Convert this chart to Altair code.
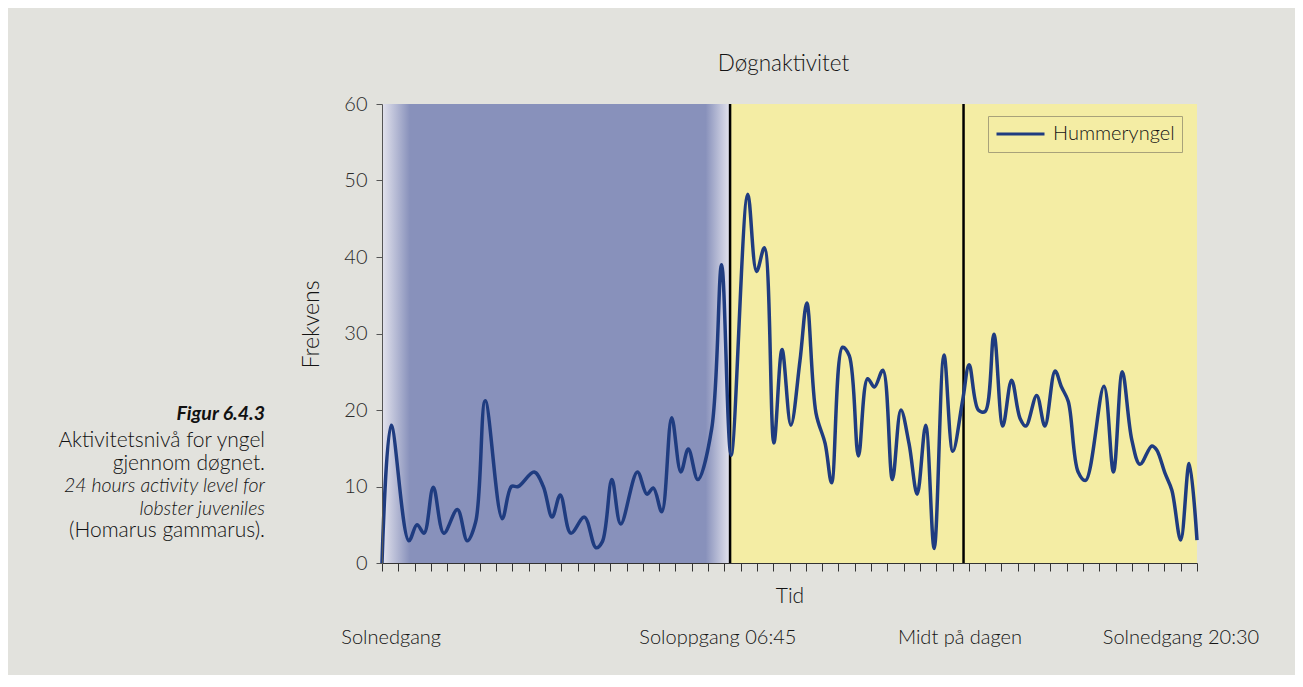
import altair as alt
import pandas as pd

# ---- data ----
# time in hours after sunset (20:30), value = frequency
hours = [0.00, 0.27, 0.79, 1.03, 1.24, 1.51, 1.82, 2.22, 2.51, 2.76, 3.04, 3.54, 3.81, 4.01,
         4.48, 4.75, 5.01, 5.25, 5.56, 5.96, 6.30, 6.49, 6.77, 7.03, 7.52, 7.80, 7.99, 8.24,
         8.53, 8.80, 9.02, 9.30, 9.71, 10.00, 10.28, 10.77, 11.03, 11.26, 11.54, 11.78, 12.04,
         12.31, 12.51, 12.78, 13.05, 13.24, 13.56, 13.76, 14.03, 14.30, 14.50, 14.75, 15.03,
         15.28, 15.52, 15.76, 16.01, 16.26, 16.55, 16.81, 17.10, 17.29, 17.56, 17.76, 18.02,
         18.28, 18.54, 18.79, 18.96, 19.28, 19.52, 19.82, 20.01, 20.21, 20.50, 20.72, 21.26,
         21.54, 21.80, 22.08, 22.32, 22.67, 22.81, 23.06, 23.26, 23.52, 23.77, 24.00]
freq = [0, 18.0, 2.9, 5.0, 3.9, 9.9, 3.9, 7.0, 2.9, 5.4, 21.2, 5.8, 10.0, 10.0,
        11.9, 10.0, 6.0, 8.9, 3.9, 6.0, 2.0, 2.8, 10.9, 5.1, 11.9, 9.0, 9.8, 6.7,
        19.0, 11.9, 14.9, 10.9, 17.6, 39.0, 14.1, 48.2, 38.1, 41.2, 15.7, 27.9, 18.0,
        26.5, 34.0, 19.6, 15.6, 10.5, 28.2, 27.1, 14.0, 24.1, 23.0, 25.2, 10.9,
        20.0, 15.6, 9.0, 18.0, 1.9, 27.2, 14.6, 21.3, 25.9, 20.0, 19.8, 29.9,
        17.9, 23.9, 18.9, 17.9, 21.9, 17.9, 25.1, 23.0, 21.1, 11.9, 10.8, 23.1,
        11.9, 25.0, 16.1, 12.9, 15.3, 14.8, 11.7, 9.5, 3.0, 13.0, 3.0]
series_name = "Hummeryngel"

sunrise_h = 10.25      # 06:45
midday_h = 17.125      # midt på dagen
day_end_h = 24.0       # 20:30

y_ticks = [0, 10, 20, 30, 40, 50, 60]
x_tick_step = 0.48
x_ticks = [round(i * x_tick_step, 2) for i in range(51)]

time_labels = ["Solnedgang", "Soloppgang 06:45", "Midt på dagen", "Solnedgang 20:30"]
time_label_h = [0.27, 9.89, 17.02, 23.53]

caption_bold = "Figur 6.4.3"
caption_no = ["Aktivitetsnivå for yngel", "gjennom døgnet."]
caption_en = ["24 hours activity level for", "lobster juveniles"]
caption_latin = "(Homarus gammarus)."

FONT = "Lato"
LIGHT = 300
INK = "#141414"
NAVY = "#1f3c80"
NIGHT = "#8891bb"
NIGHT_EDGE = "#e4e4ee"
DAY = "#f4eda4"
BG = "#e2e2dd"

df = pd.DataFrame({"h": hours, "f": freq, "serie": series_name})
night = pd.DataFrame({"start": [0.0], "end": [sunrise_h]})
day = pd.DataFrame({"start": [sunrise_h], "end": [day_end_h]})
rules = pd.DataFrame({"h": [sunrise_h, midday_h]})
labels = pd.DataFrame({"h": time_label_h, "t": time_labels})
one = pd.DataFrame({"d": [0]})

xscale = alt.Scale(domain=[0, 24], nice=False, zero=False)
yscale = alt.Scale(domain=[0, 60], nice=False)

x_axis = alt.Axis(values=x_ticks, tickCount=len(x_ticks), labels=False, title="Tid",
                  titleFont=FONT, titleFontSize=21, titleFontWeight=LIGHT, titleColor=INK,
                  titlePadding=14, tickSize=8, tickColor="#333", domainColor="#333",
                  grid=False, zindex=1)

night_layer = alt.Chart(night).mark_rect(
    color=alt.Gradient(
        gradient="linear",
        stops=[
            alt.GradientStop(color=NIGHT_EDGE, offset=0),
            alt.GradientStop(color=NIGHT, offset=0.08),
            alt.GradientStop(color=NIGHT, offset=0.93),
            alt.GradientStop(color=NIGHT_EDGE, offset=1),
        ],
        x1=0, x2=1, y1=0, y2=0,
    )
).encode(
    x=alt.X("start:Q", scale=xscale, axis=x_axis),
    x2="end:Q",
    y=alt.value(0),
    y2=alt.value(459),
)

day_layer = alt.Chart(day).mark_rect(color=DAY).encode(
    x=alt.X("start:Q", scale=xscale, axis=x_axis), x2="end:Q",
    y=alt.value(0), y2=alt.value(459),
)

rule_layer = alt.Chart(rules).mark_rule(color="black", strokeWidth=2.5).encode(
    x=alt.X("h:Q", scale=xscale, axis=x_axis)
)

line_layer = alt.Chart(df).mark_line(interpolate="catmull-rom", strokeWidth=3.5).encode(
    x=alt.X("h:Q", scale=xscale, axis=x_axis),
    y=alt.Y("f:Q", scale=yscale,
            axis=alt.Axis(values=y_ticks, title="Frekvens", titleFont=FONT, titleFontSize=23,
                          titleFontWeight=LIGHT, titleColor=INK, titlePadding=20,
                          titleY=220,
                          labelFont=FONT, labelFontSize=20, labelFontWeight=LIGHT,
                          labelColor="#2a2a2a", labelPadding=9,
                          tickSize=6, tickColor="#555", domainColor="#555", grid=False,
                          zindex=1)),
    color=alt.Color("serie:N", scale=alt.Scale(domain=[series_name], range=[NAVY]),
                    legend=alt.Legend(title=None, orient="none", legendX=606, legendY=12,
                                      symbolType="stroke", symbolSize=2304,
                                      symbolStrokeWidth=3, clipHeight=22,
                                      labelFont=FONT, labelFontSize=20, labelFontWeight=LIGHT,
                                      labelColor=INK, strokeColor="#a8a27a", padding=7,
                                      labelOffset=7)),
)

label_layer = alt.Chart(labels).mark_text(
    font=FONT, fontSize=20, fontWeight=LIGHT, color=INK, baseline="middle", align="center"
).encode(x=alt.X("h:Q", scale=xscale), y=alt.value(534), text="t:N")

cap_x = -117
cap1 = alt.Chart(one).mark_text(
    text=caption_bold, font=FONT, fontSize=19.5, fontWeight="bold", fontStyle="italic",
    align="right", baseline="middle", color="#111"
).encode(x=alt.value(cap_x), y=alt.value(310))
cap2 = alt.Chart(one).mark_text(
    text=caption_no, font=FONT, fontSize=21, fontWeight=LIGHT, align="right",
    baseline="middle", lineHeight=22.5, color="#111"
).encode(x=alt.value(cap_x), y=alt.value(337))
cap3 = alt.Chart(one).mark_text(
    text=caption_en, font=FONT, fontSize=19.5, fontWeight=LIGHT, fontStyle="italic",
    align="right", baseline="middle", lineHeight=22.5, color="#111"
).encode(x=alt.value(cap_x), y=alt.value(382))
cap4 = alt.Chart(one).mark_text(
    text=caption_latin, font=FONT, fontSize=21, fontWeight=LIGHT, align="right",
    baseline="middle", color="#111"
).encode(x=alt.value(cap_x), y=alt.value(427))

chart = alt.layer(
    night_layer, day_layer, rule_layer, line_layer, label_layer, cap1, cap2, cap3, cap4
).properties(
    width=815, height=459,
    title=alt.Title("Døgnaktivitet", font=FONT, fontSize=22.5, fontWeight=LIGHT,
                    color=INK, offset=19, anchor="middle", dx=-6),
    autosize=alt.AutoSizeParams(type="none"),
    padding={"left": 374, "top": 96, "right": 98, "bottom": 112},
).configure(background=BG).configure_view(strokeWidth=0)

chart.save("out.html", embed_options={"renderer": "svg", "actions": False})
